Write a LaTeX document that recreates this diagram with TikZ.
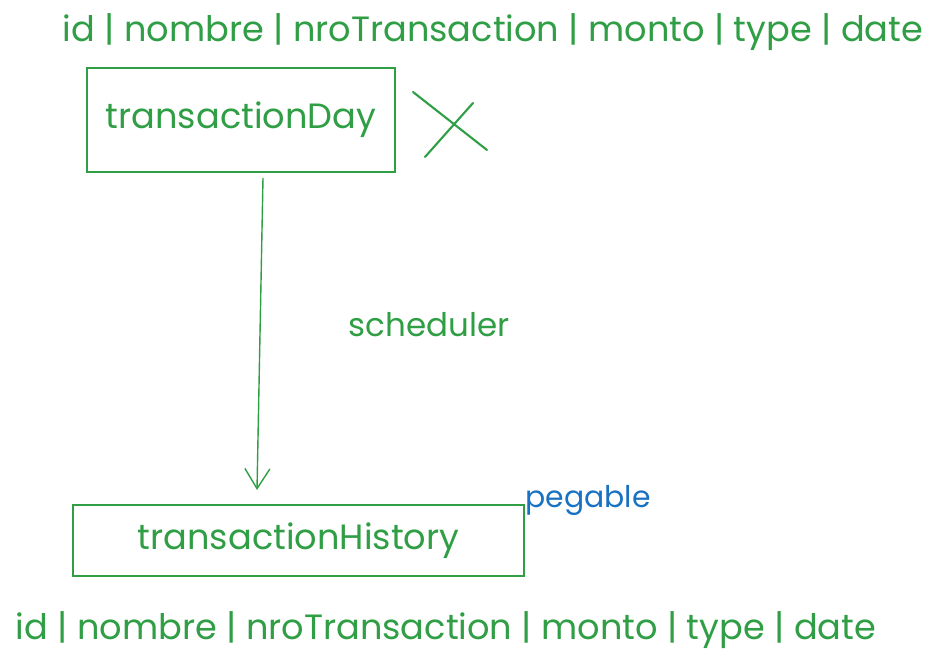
\documentclass[tikz,border=0pt]{standalone}
\usepackage{fontspec}
\setmainfont{Poppins}
\usepackage{tikz}
\usetikzlibrary{arrows.meta}

\definecolor{sketchgreen}{HTML}{2F9E44}
\definecolor{sketchblue}{HTML}{1971C2}

\begin{document}
\begin{tikzpicture}
	
	\tikzset{table/.style = {shape=rectangle,draw=sketchgreen,line width=0.8pt,text=sketchgreen,font=\fontsize{20}{24}\selectfont}}
	\tikzset{label/.style = {text=sketchgreen,font=\fontsize{20}{24}\selectfont,inner sep=0pt}}
	\tikzset{edge/.style = {-{Straight Barb[length=0.4cm,width=0.5cm]},draw=sketchgreen,line width=0.8pt}}
	
	\useasboundingbox (0,0) rectangle (18.78,-13.26);
	
	\node[label] (cols1) at (9.86,-0.64) {id | nombre | nroTransaction | monto | type | date};
	\node[table,minimum width=6.16cm,minimum height=2.08cm] (day) at (4.82,-2.4) {transactionDay};
	\node[label,font=\fontsize{18.5}{22}\selectfont] (sched) at (8.58,-6.5) {scheduler};
	\node[table,minimum width=9.02cm,minimum height=1.42cm] (hist) at (5.97,-10.81) {transactionHistory};
	\node[label,text=sketchblue,font=\fontsize{17}{20}\selectfont] (peg) at (11.76,-10.0) {pegable};
	\node[label] (cols2) at (8.92,-12.6) {id | nombre | nroTransaction | monto | type | date};
	
	% discarded table
	\draw[sketchgreen,line width=1.2pt,line cap=round] (8.26,-1.84) -- (9.74,-3.0);
	\draw[sketchgreen,line width=1.2pt,line cap=round] (9.46,-2.06) -- (8.5,-3.14);
	
	\coordinate (a1) at (5.26,-3.56);
	\coordinate (a2) at (5.14,-9.8);
	\draw[edge] (a1) to (a2);
	\end{tikzpicture}
\end{document}
